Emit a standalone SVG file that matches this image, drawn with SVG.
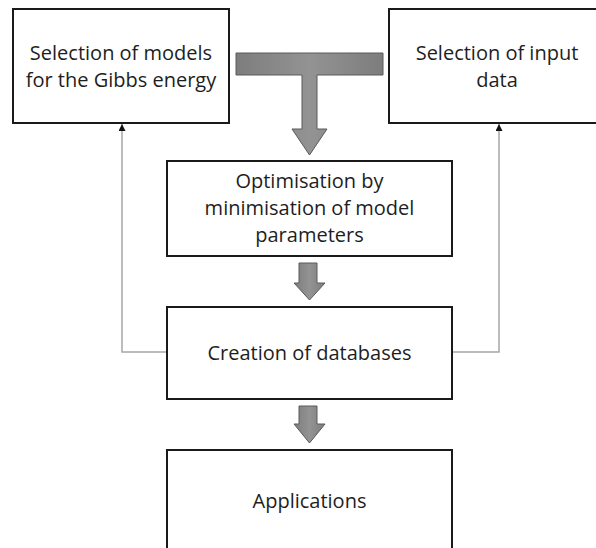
<svg xmlns="http://www.w3.org/2000/svg" width="596" height="548" viewBox="0 0 596 548">
<style>
.box{fill:#fff;stroke:#1a1a1a;stroke-width:2}
.lbl{font-family:"Open Sans","Liberation Sans",sans-serif;font-size:20px;fill:#1e1e1e;text-anchor:middle}
.fb{fill:none;stroke:#a6a6a6;stroke-width:1.5}
.big{fill:url(#g);stroke:#5a5a5a;stroke-width:1}
</style>
<defs>
<linearGradient id="g" x1="0" y1="0" x2="1" y2="0">
<stop offset="0" stop-color="#7d7d7d"/>
<stop offset="0.5" stop-color="#939393"/>
<stop offset="1" stop-color="#7d7d7d"/>
</linearGradient>
<marker id="ah" markerWidth="7" markerHeight="7" refX="7" refY="3.5" orient="auto" markerUnits="userSpaceOnUse" viewBox="0 0 7 7">
<path d="M0,0 L7,3.5 L0,7 Z" fill="#111"/>
</marker>
</defs>
<rect width="596" height="548" fill="#fff"/>
<g id="connectors">
<path class="big" d="M236,53 H383 V75 H317 V129 H327 L309.5,155 L292,129 H302 V75 H236 Z"/>
<path class="big" d="M299,263 H317 V283 H325 L309.5,300 L294,283 H299 Z"/>
<path class="big" d="M299,406 H317 V424 H325 L309.5,443 L294,424 H299 Z"/>
<path class="fb" d="M167,352 H122 V124" marker-end="url(#ah)"/>
<path class="fb" d="M452,352 H499 V124" marker-end="url(#ah)"/>
</g>
<g id="models">
<rect class="box" x="13" y="9" width="216" height="114"/>
<text class="lbl" x="121" y="60">Selection of models</text>
<text class="lbl" x="121" y="87">for the Gibbs energy</text>
</g>
<g id="input">
<rect class="box" x="389" y="9" width="216" height="114"/>
<text class="lbl" x="497" y="60">Selection of input</text>
<text class="lbl" x="497" y="87">data</text>
</g>
<g id="optimisation">
<rect class="box" x="167" y="161" width="285" height="95"/>
<text class="lbl" x="309.5" y="188">Optimisation by</text>
<text class="lbl" x="309.5" y="215">minimisation of model</text>
<text class="lbl" x="309.5" y="242">parameters</text>
</g>
<g id="databases">
<rect class="box" x="167" y="307" width="285" height="92"/>
<text class="lbl" x="309.5" y="360">Creation of databases</text>
</g>
<g id="applications">
<rect class="box" x="167" y="450" width="285" height="120"/>
<text class="lbl" x="309.5" y="508">Applications</text>
</g>
</svg>
